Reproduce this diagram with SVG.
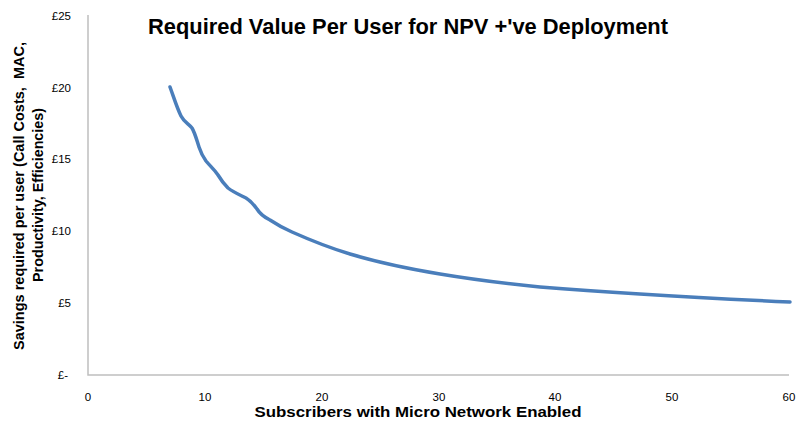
<svg xmlns="http://www.w3.org/2000/svg" width="796" height="423" viewBox="0 0 796 423">
<style>
.tick{font-family:"Liberation Sans",Arial,sans-serif;font-size:11.5px;fill:#000}
.lab{font-family:"Liberation Sans",Arial,sans-serif;font-size:14px;font-weight:bold;fill:#000}
.axis{stroke:#BFBFBF;stroke-width:1.5;fill:none}
.series{stroke:#4A7EBB;stroke-width:3.5;fill:none;stroke-linejoin:round;stroke-linecap:round}
</style>
<rect width="796" height="423" fill="#fff"/>
<g id="title">
<text x="408" y="34" text-anchor="middle" font-family="'Liberation Sans',Arial,sans-serif" font-size="22" font-weight="bold" textLength="520" lengthAdjust="spacingAndGlyphs">Required Value Per User for NPV +'ve Deployment</text>
</g>
<g id="axes">
<path class="axis" d="M88 15 V375 H789"/>
</g>
<g id="y-ticks" class="tick" text-anchor="end">
<text x="71" y="20">£25</text>
<text x="71" y="92">£20</text>
<text x="71" y="163">£15</text>
<text x="71" y="235">£10</text>
<text x="71" y="307">£5</text>
<text x="68" y="379">£-</text>
</g>
<g id="x-ticks" class="tick" text-anchor="middle">
<text x="88" y="401">0</text>
<text x="205" y="401">10</text>
<text x="322" y="401">20</text>
<text x="439" y="401">30</text>
<text x="555" y="401">40</text>
<text x="672" y="401">50</text>
<text x="789" y="401">60</text>
</g>
<g id="x-label">
<text class="lab" x="418" y="417" text-anchor="middle" textLength="327" lengthAdjust="spacingAndGlyphs">Subscribers with Micro Network Enabled</text>
</g>
<g id="y-label">
<text class="lab" transform="translate(24,196) rotate(-90)" text-anchor="middle" textLength="308" lengthAdjust="spacingAndGlyphs">Savings required per user (Call Costs,&#160; MAC,</text>
<text class="lab" transform="translate(43,195) rotate(-90)" text-anchor="middle" textLength="174" lengthAdjust="spacingAndGlyphs">Productivity, Efficiencies)</text>
</g>
<g id="connectors">
<path class="series" d="M170 87 C174 98 177 108 181 116 C184 122 189 124 192 128 C195 133 197 141 199 147 C201 153 203 157 206 161 C210 166 214 169 218 175 C221 180 224 184 228 188 C233 192 240 195 246 198 C251 201 254 205 257 209 C260 214 264 217 270 220 C276 224 283 228 292 232 C310 240 330 248 350 254 C380 263 410 269 440 274 C470 279 500 283 540 287 C600 292 680 297 790 302"/>
</g>
</svg>
